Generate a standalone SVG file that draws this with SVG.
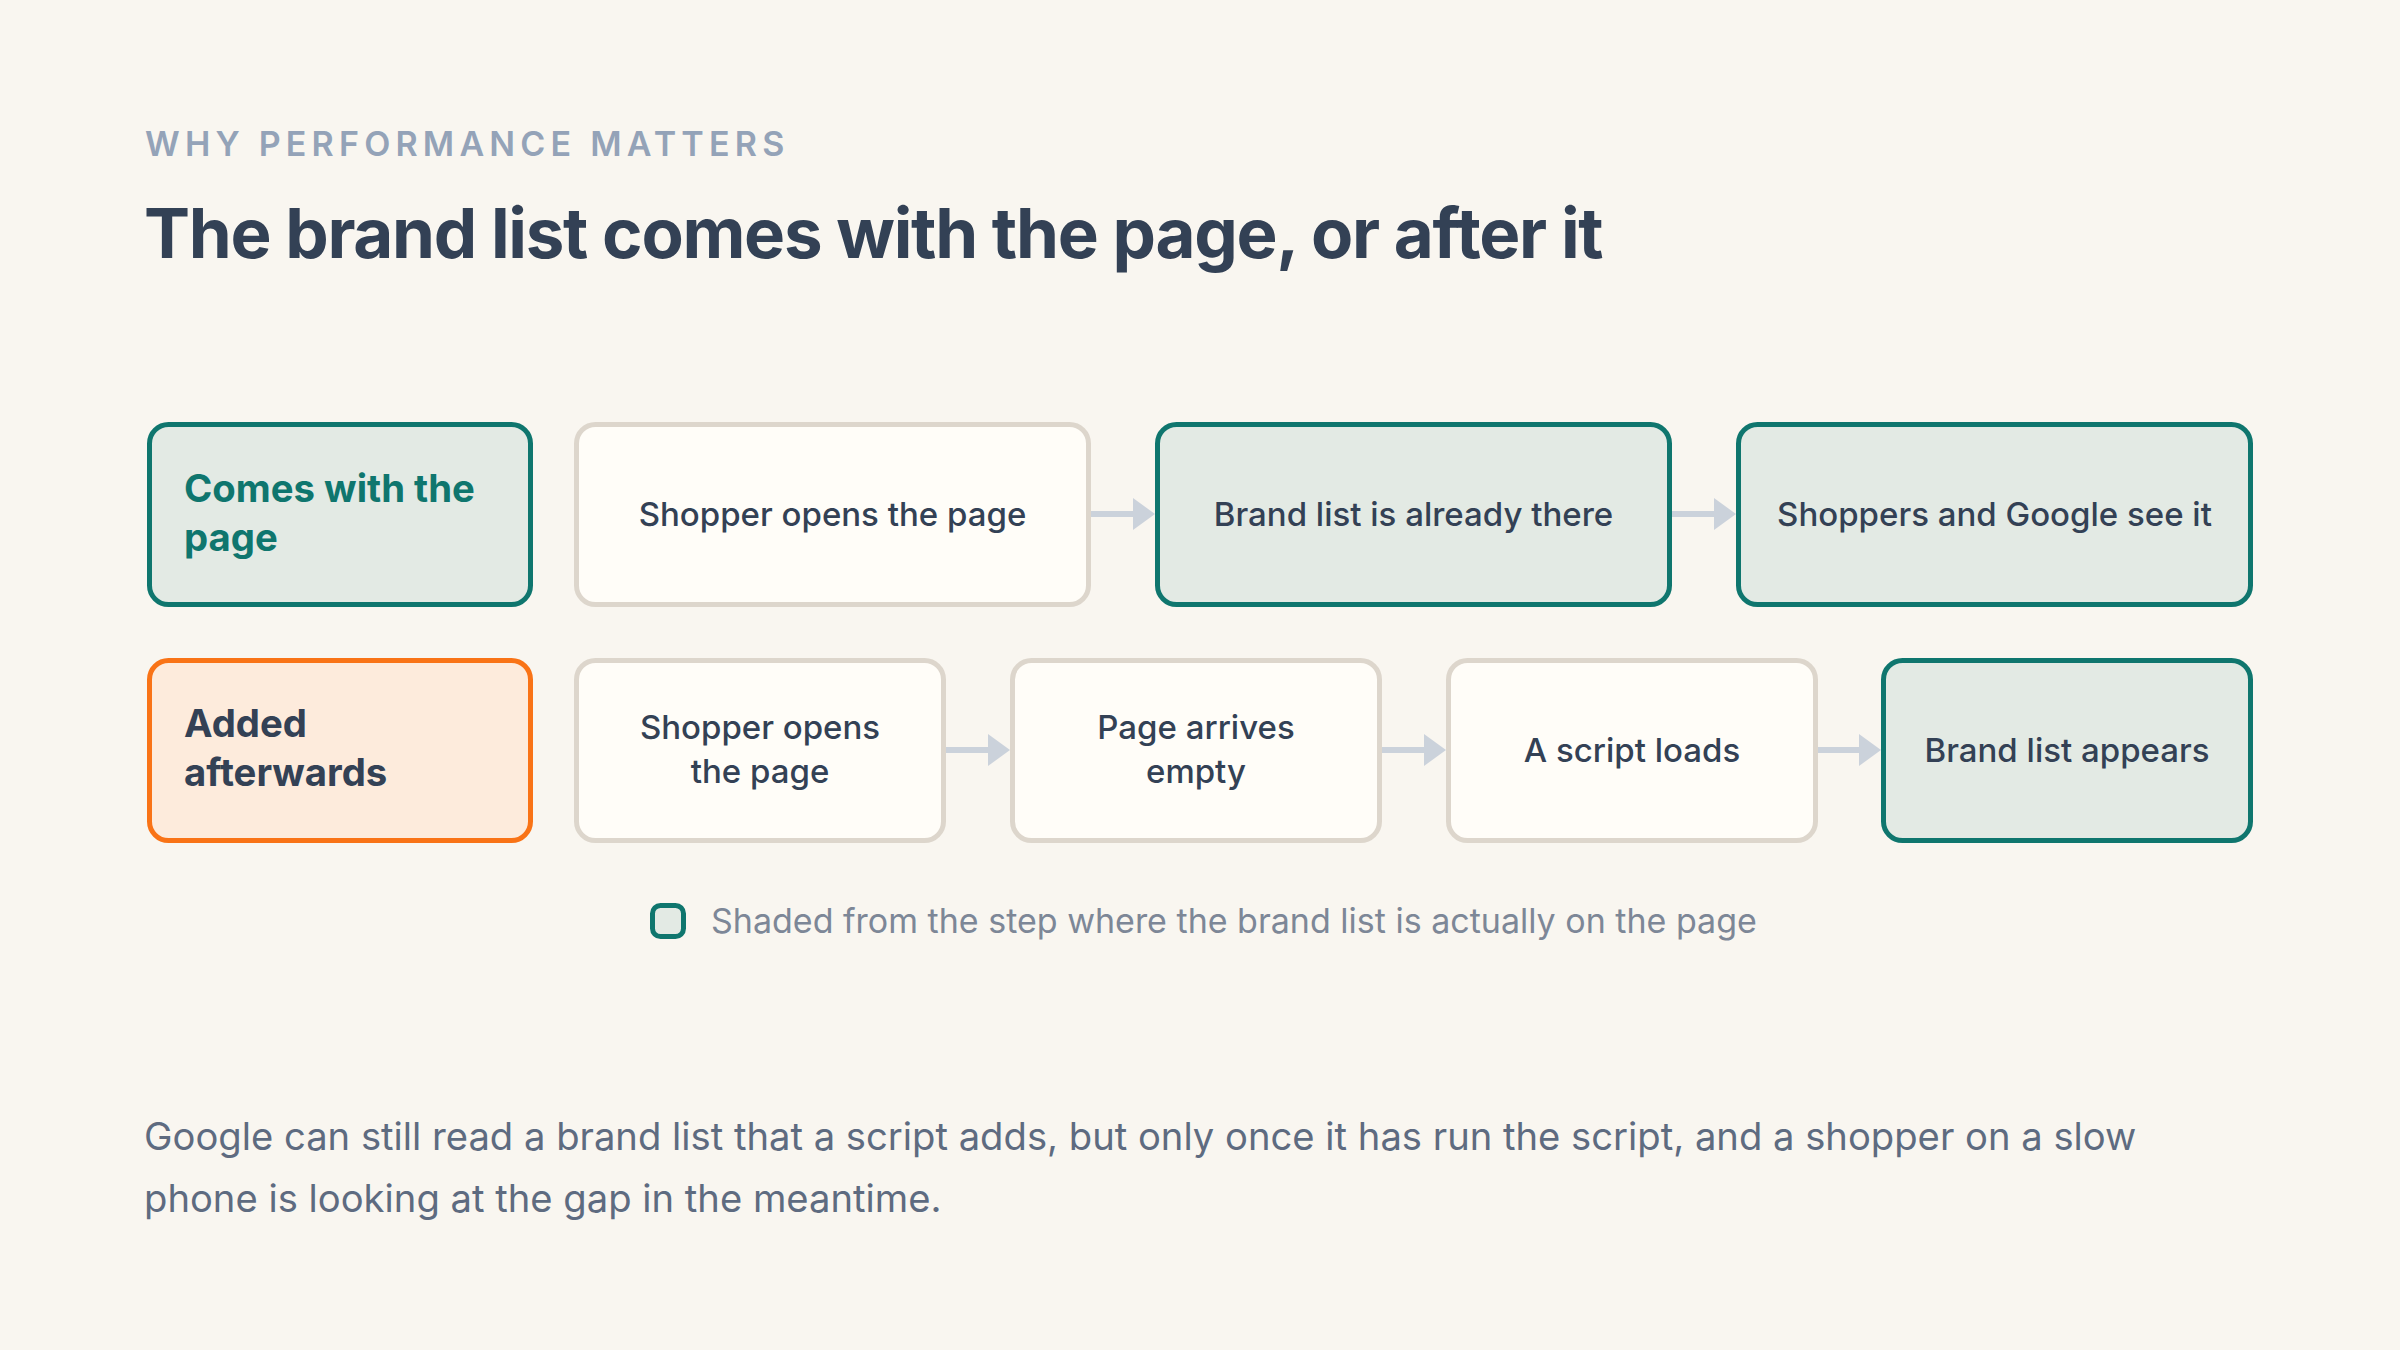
<svg xmlns="http://www.w3.org/2000/svg" width="2400" height="1350" viewBox="0 0 2400 1350">
  <defs>
    <style>
      .bg { fill: #F9F6F0; }
      .teal { fill: #E3EAE4; stroke: #0F766E; stroke-width: 5; }
      .plain { fill: #FFFDF8; stroke: #DDD6CC; stroke-width: 5; }
      .orange { fill: #FDEBDC; stroke: #F97316; stroke-width: 5; }
      .txt { font-family: Inter, "Noto Sans", "Liberation Sans", sans-serif; }
      .node { font-size: 33px; font-weight: 500; fill: #334155; text-anchor: middle; }
      .lab { font-size: 38.3px; font-weight: 700; }
      .conn { stroke: #CBD2DB; stroke-width: 6; fill: none; }
      .head { fill: #CBD2DB; }
    </style>
  </defs>
  <rect class="bg" x="0" y="0" width="2400" height="1350"/>

  <text class="txt" x="145" y="156" font-size="34" font-weight="600" letter-spacing="5.2" fill="#94A3B8">WHY PERFORMANCE MATTERS</text>
  <text class="txt" x="144" y="258" font-size="69" font-weight="700" letter-spacing="-1.3" fill="#334155">The brand list comes with the page, or after it</text>

  <g id="connectors">
    <line class="conn" x1="1091" y1="514" x2="1135" y2="514"/>
    <polygon class="head" points="1133,498 1155,514 1133,530"/>
    <line class="conn" x1="1672" y1="514" x2="1716" y2="514"/>
    <polygon class="head" points="1714,498 1736,514 1714,530"/>
    <line class="conn" x1="946" y1="750" x2="990" y2="750"/>
    <polygon class="head" points="988,734 1010,750 988,766"/>
    <line class="conn" x1="1382" y1="750" x2="1426" y2="750"/>
    <polygon class="head" points="1424,734 1446,750 1424,766"/>
    <line class="conn" x1="1817" y1="750" x2="1861" y2="750"/>
    <polygon class="head" points="1859,734 1881,750 1859,766"/>
  </g>

  <g id="label-comes">
    <rect class="teal" x="149.5" y="424.5" width="381" height="180" rx="19"/>
    <text class="txt lab" x="184" y="502" fill="#0F766E">Comes with the</text>
    <text class="txt lab" x="184" y="551" fill="#0F766E">page</text>
  </g>
  <g id="node-opens-1">
    <rect class="plain" x="576.5" y="424.5" width="512" height="180" rx="19"/>
    <text class="txt node" x="832.5" y="526">Shopper opens the page</text>
  </g>
  <g id="node-already">
    <rect class="teal" x="1157.5" y="424.5" width="512" height="180" rx="19"/>
    <text class="txt node" x="1413.5" y="526">Brand list is already there</text>
  </g>
  <g id="node-see">
    <rect class="teal" x="1738.5" y="424.5" width="512" height="180" rx="19"/>
    <text class="txt node" x="1994.5" y="526">Shoppers and Google see it</text>
  </g>

  <g id="label-added">
    <rect class="orange" x="149.5" y="660.5" width="381" height="180" rx="19"/>
    <text class="txt lab" x="184" y="737" fill="#334155">Added</text>
    <text class="txt lab" x="184" y="786" fill="#334155">afterwards</text>
  </g>
  <g id="node-opens-2">
    <rect class="plain" x="576.5" y="660.5" width="367" height="180" rx="19"/>
    <text class="txt node" x="760" y="739">Shopper opens</text>
    <text class="txt node" x="760" y="783">the page</text>
  </g>
  <g id="node-empty">
    <rect class="plain" x="1012.5" y="660.5" width="367" height="180" rx="19"/>
    <text class="txt node" x="1196" y="739">Page arrives</text>
    <text class="txt node" x="1196" y="783">empty</text>
  </g>
  <g id="node-script">
    <rect class="plain" x="1448.5" y="660.5" width="367" height="180" rx="19"/>
    <text class="txt node" x="1632" y="762">A script loads</text>
  </g>
  <g id="node-appears">
    <rect class="teal" x="1883.5" y="660.5" width="367" height="180" rx="19"/>
    <text class="txt node" x="2067" y="762">Brand list appears</text>
  </g>

  <g id="legend">
    <rect class="teal" x="652.5" y="905.5" width="31" height="31" rx="8"/>
    <text class="txt" x="711" y="933" font-size="34" fill="#7D8797">Shaded from the step where the brand list is actually on the page</text>
  </g>

  <text class="txt" x="144" y="1150" font-size="38.2" fill="#5E6B80">Google can still read a brand list that a script adds, but only once it has run the script, and a shopper on a slow</text>
  <text class="txt" x="144" y="1212" font-size="38.2" fill="#5E6B80">phone is looking at the gap in the meantime.</text>
</svg>
